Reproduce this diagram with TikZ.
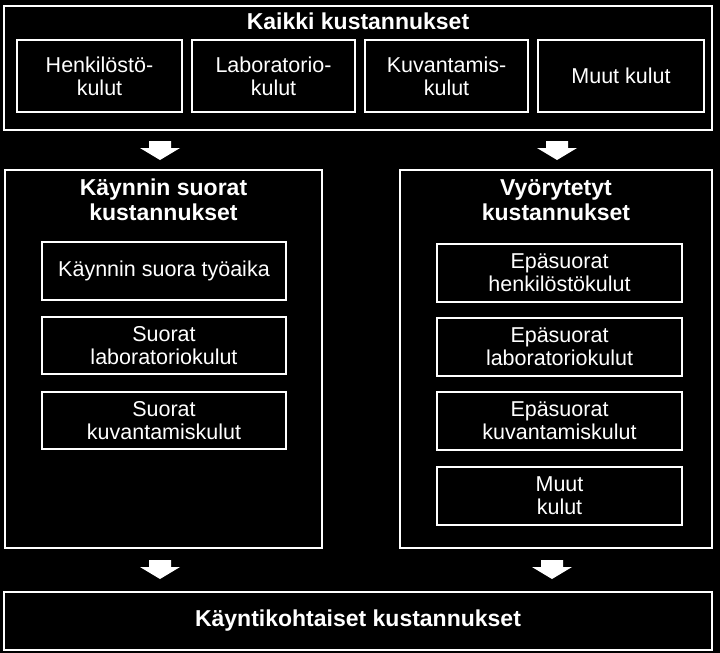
\documentclass[tikz,border=0pt]{standalone}
\usepackage{fontspec}
\setmainfont{Liberation Sans}
\begin{document}
\begin{tikzpicture}[x=1pt,y=-1pt,
  box/.style={draw=white,line width=2.5pt,align=center,text=white,font=\fontsize{21.5}{23}\selectfont},
  ttl/.style={text=white,align=center,font=\bfseries\fontsize{23}{25}\selectfont},
  barrow/.style={fill=white}]
\fill[black] (0,0) rectangle (720,653);
\useasboundingbox (0,0) rectangle (720,653);
\node[box,minimum width=708,minimum height=124] (top) at (358,68) {};
\node[ttl] (toptitle) at (358,21) {Kaikki kustannukset};
\node[box,minimum width=165,minimum height=72] (h) at (99.5,76) {Henkilöstö-\\kulut};
\node[box,minimum width=163,minimum height=72] (l) at (273.5,76) {Laboratorio-\\kulut};
\node[box,minimum width=163,minimum height=72] (k) at (446.5,76) {Kuvantamis-\\kulut};
\node[box,minimum width=166,minimum height=72] (m) at (621,76) {Muut kulut};
\node[box,minimum width=317,minimum height=378] (left) at (163.5,359) {};
\node[ttl] (lt) at (163.5,200) {Käynnin suorat\\kustannukset};
\node[box,minimum width=244,minimum height=58] (l1) at (164,271) {Käynnin suora työaika};
\node[box,minimum width=244,minimum height=57] (l2) at (164,345.5) {Suorat\\laboratoriokulut};
\node[box,minimum width=244,minimum height=57] (l3) at (164,420.5) {Suorat\\kuvantamiskulut};
\node[box,minimum width=312,minimum height=378] (right) at (556,359) {};
\node[ttl] (rt) at (556,200) {Vyörytetyt\\kustannukset};
\node[box,minimum width=245,minimum height=58] (r1) at (559.5,273) {Epäsuorat\\henkilöstökulut};
\node[box,minimum width=245,minimum height=58] (r2) at (559.5,347) {Epäsuorat\\laboratoriokulut};
\node[box,minimum width=245,minimum height=58] (r3) at (559.5,421) {Epäsuorat\\kuvantamiskulut};
\node[box,minimum width=245,minimum height=58] (r4) at (559.5,496) {Muut\\kulut};
\node[box,minimum width=708,minimum height=58] (bot) at (358,621) {};
\node[ttl] (bt) at (358,621) {Käyntikohtaiset kustannukset};
\foreach \cx/\cy in {160/141, 557/141, 160/560, 552/560}{
  \fill[barrow] (\cx-11,\cy) -- (\cx+11,\cy) -- (\cx+11,\cy+7) -- (\cx+20,\cy+7) -- (\cx,\cy+19) -- (\cx-20,\cy+7) -- (\cx-11,\cy+7) -- cycle;
}
\end{tikzpicture}
\end{document}
